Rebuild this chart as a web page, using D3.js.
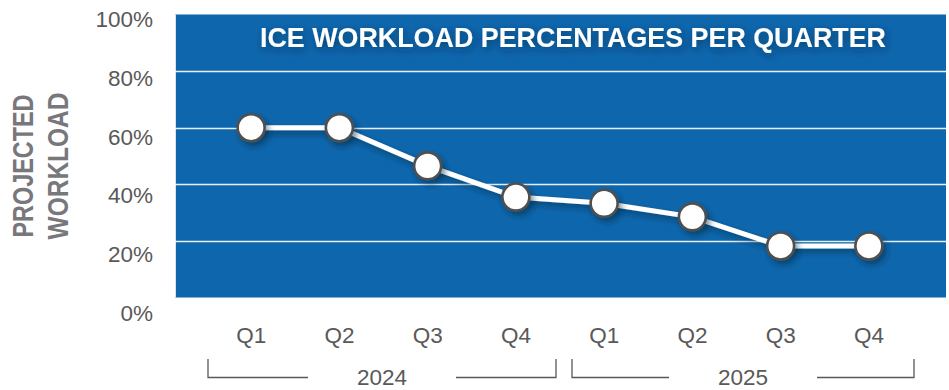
<!DOCTYPE html>
<html>
<head>
<meta charset="utf-8">
<script src="https://cdn.jsdelivr.net/npm/d3@7"></script>
<style>
  html, body { margin: 0; padding: 0; background: #ffffff; }
  svg { display: block; }
</style>
</head>
<body>
<div id="chart"></div>
<script>
// Quarterly workload series
const quarters = ["Q1", "Q2", "Q3", "Q4", "Q1", "Q2", "Q3", "Q4"];
const years = ["2024", "2024", "2024", "2024", "2025", "2025", "2025", "2025"];
const yearGroups = ["2024", "2025"];
const workload = [0.60, 0.60, 0.465, 0.355, 0.333, 0.285, 0.182, 0.182];
const yTicks = [0, 0.2, 0.4, 0.6, 0.8, 1.0];
const titleText = "ICE WORKLOAD PERCENTAGES PER QUARTER";
const yTitleLines = ["PROJECTED", "WORKLOAD"];

const W = 949, H = 390;
const panel = { left: 175, right: 946, top: 14.5, bottom: 297.5 };
const BLUE = "#0e67ad";
const GREY = "#595959";
const SANS = "'Liberation Sans', Arial, sans-serif";

const svg = d3.select("#chart").append("svg")
  .attr("width", W).attr("height", H);

const defs = svg.append("defs");
const shadow = defs.append("filter").attr("id", "markShadow")
  .attr("x", "-50%").attr("y", "-50%").attr("width", "200%").attr("height", "200%");
shadow.append("feDropShadow").attr("dx", 3).attr("dy", 4).attr("stdDeviation", 3)
  .attr("flood-color", "#001a33").attr("flood-opacity", 0.5);
const tShadow = defs.append("filter").attr("id", "titleShadow")
  .attr("x", "-10%").attr("y", "-60%").attr("width", "120%").attr("height", "220%");
tShadow.append("feDropShadow").attr("dx", 2).attr("dy", 3).attr("stdDeviation", 4)
  .attr("flood-color", "#00203d").attr("flood-opacity", 0.55);

// Scales
const y = d3.scaleLinear().domain([0, 1]).range([panel.bottom, panel.top]);
const yLabel = d3.scaleLinear().domain([0, 1]).range([312, 18.8]);
const idx = d3.range(quarters.length);
const x = d3.scaleBand().domain(idx).range([207, 913]).padding(0);
const cx = i => x(i) + x.bandwidth() / 2;

// Blue plot panel
svg.append("rect")
  .attr("x", panel.left).attr("y", y(1))
  .attr("width", panel.right - panel.left).attr("height", y(0) - y(1))
  .attr("fill", BLUE);
svg.append("line")
  .attr("x1", panel.left + 0.5).attr("x2", panel.left + 0.5)
  .attr("y1", y(1)).attr("y2", y(0))
  .attr("stroke", "#d9e3ee").attr("stroke-width", 1);

// Horizontal gridlines
svg.append("g").selectAll("line")
  .data(yTicks.filter(t => t > 0 && t < 1))
  .join("line")
  .attr("x1", panel.left).attr("x2", panel.right)
  .attr("y1", d => Math.round(y(d)) + 0.5).attr("y2", d => Math.round(y(d)) + 0.5)
  .attr("stroke", "#ffffff").attr("stroke-width", 1.4).attr("opacity", 0.9);

// Y axis tick labels
const yAxis = d3.axisLeft(yLabel).tickValues(yTicks)
  .tickFormat(d3.format(".0%")).tickSize(0).tickPadding(0);
const yg = svg.append("g").attr("transform", "translate(153,0)").call(yAxis);
yg.select(".domain").remove();
yg.selectAll("text")
  .attr("font-family", SANS)
  .attr("font-size", 22.5).attr("fill", GREY).attr("dy", "0.36em");

// Y axis title (two rotated lines)
yTitleLines.forEach((t, i) => {
  svg.append("text")
    .attr("transform", `translate(${33 + i * 35},166) rotate(-90)`)
    .attr("text-anchor", "middle")
    .attr("font-family", SANS)
    .attr("font-weight", "bold").attr("font-size", 29)
    .attr("fill", "#77777c")
    .attr("textLength", i === 0 ? 143 : 147).attr("lengthAdjust", "spacingAndGlyphs")
    .text(t);
});

// Title
svg.append("text")
  .attr("x", 573).attr("y", 47).attr("text-anchor", "middle")
  .attr("font-family", SANS)
  .attr("font-weight", "bold").attr("font-size", 28).attr("fill", "#ffffff")
  .attr("textLength", 626).attr("lengthAdjust", "spacingAndGlyphs")
  .attr("filter", "url(#titleShadow)")
  .text(titleText);

// Quarter labels
const xAxis = d3.axisBottom(x).tickFormat(i => quarters[i]).tickSize(0).tickPadding(0);
const xg = svg.append("g").attr("transform", "translate(0,343)").call(xAxis);
xg.select(".domain").remove();
xg.selectAll("text")
  .attr("font-family", SANS)
  .attr("font-size", 22.5).attr("fill", GREY).attr("dy", 0);

// Year brackets and labels
const halfGap = 74;
const insets = { "2024": [1, 4], "2025": [12, -1] };
yearGroups.forEach(yr => {
  const members = idx.filter(i => years[i] === yr);
  const x0 = x(members[0]) + insets[yr][0];
  const x1 = x(members[members.length - 1]) + x.bandwidth() - insets[yr][1];
  const mid = (x0 + x1) / 2;
  const yTop = 359, yBot = 377.5;
  const g = svg.append("g").attr("fill", "none").attr("stroke", GREY).attr("stroke-width", 1.3);
  g.append("path").attr("d", `M${x0},${yTop}V${yBot}H${mid - halfGap}`);
  g.append("path").attr("d", `M${x1},${yTop}V${yBot}H${mid + halfGap}`);
  svg.append("text")
    .attr("x", mid).attr("y", 385).attr("text-anchor", "middle")
    .attr("font-family", SANS)
    .attr("font-size", 22.5).attr("fill", GREY)
    .text(yr);
});

// Workload line and markers
const line = d3.line().x((d, i) => cx(i)).y(d => y(d));
svg.append("path")
  .datum(workload)
  .attr("d", line)
  .attr("fill", "none").attr("stroke", "#ffffff").attr("stroke-width", 5)
  .attr("filter", "url(#markShadow)");

svg.append("g").selectAll("circle")
  .data(workload)
  .join("circle")
  .attr("cx", (d, i) => cx(i)).attr("cy", d => y(d))
  .attr("r", 13.5)
  .attr("fill", "#ffffff").attr("stroke", "#505050").attr("stroke-width", 2.6)
  .attr("filter", "url(#markShadow)");
</script>
</body>
</html>
